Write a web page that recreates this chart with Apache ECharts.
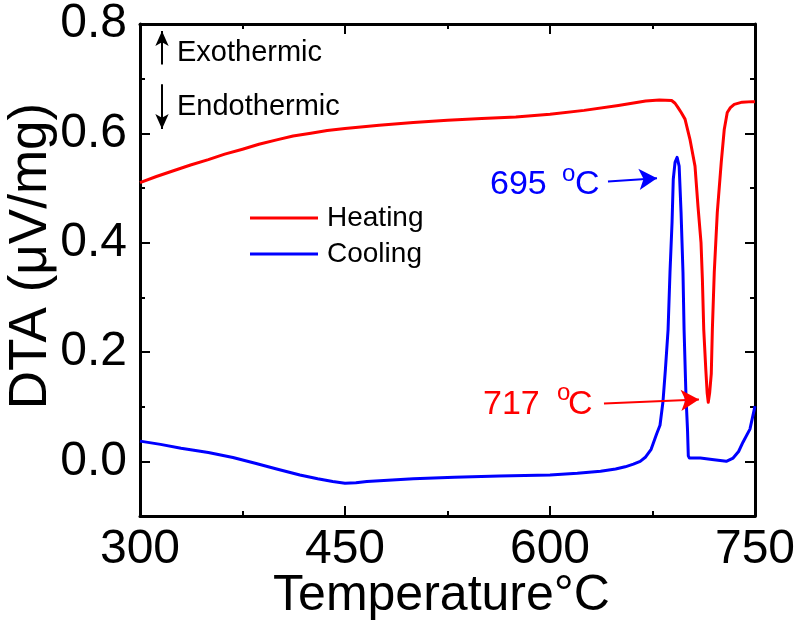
<!DOCTYPE html>
<html><head><meta charset="utf-8">
<script src="https://cdn.jsdelivr.net/npm/echarts@6/dist/echarts.min.js"></script>
<style>html,body{margin:0;padding:0;background:#fff}#c{width:800px;height:624px}</style>
</head><body><div id="c"></div>
<script>
// Heating curve (temperature °C, DTA µV/mg)
var heatT = [300,312,325,337,350,362,375,387,400,412,425,437,450,475,500,525,550,575,600,625,650,670,680,689,691.5,693.7,696,698.8,702.4,706.1,708.3,710.5,711.5,712.5,714,715,715.8,716.8,718,718.8,720.2,722.4,725.3,727.5,729.7,732,734.8,740.6,748,750];
var heatV = [0.510,0.521,0.532,0.542,0.552,0.562,0.571,0.580,0.588,0.595,0.600,0.605,0.609,0.615,0.620,0.624,0.627,0.630,0.635,0.642,0.651,0.659,0.661,0.660,0.655,0.647,0.638,0.626,0.589,0.540,0.466,0.400,0.333,0.241,0.168,0.125,0.108,0.125,0.160,0.241,0.346,0.455,0.547,0.607,0.638,0.647,0.653,0.657,0.658,0.658];
// Cooling curve
var coolT = [300,315,330,350,368,385,400,417,430,441,450,458,466,500,530,563,600,620,637,648,655,661,666,670,674,678,680.5,682.7,684.5,686.4,687.8,689.3,690.2,691.5,693,694.5,695.9,697.3,698.1,699.5,700.6,701.2,702,710,720,729,734,738,741.2,746.3,750];
var coolV = [0.037,0.031,0.024,0.016,0.007,-0.004,-0.014,-0.025,-0.032,-0.037,-0.040,-0.039,-0.037,-0.032,-0.029,-0.027,-0.025,-0.022,-0.018,-0.014,-0.010,-0.005,0.000,0.008,0.022,0.050,0.066,0.110,0.170,0.241,0.346,0.437,0.516,0.547,0.556,0.540,0.455,0.346,0.241,0.119,0.059,0.010,0.006,0.006,0.003,0.000,0.006,0.018,0.035,0.059,0.101];
// Axis ticks
var xMin = 300, xMax = 750, xStep = 150;
var yMin = -0.1, yMax = 0.8;
var yMajor = [0, 0.2, 0.4, 0.6, 0.8];
var yMinor = [0.1, 0.3, 0.5, 0.7];
// Annotations: [label, arrow start T, arrow start V, arrow end T, arrow end V]
var peakCool = ['695', 642.4, 0.512, 678.3, 0.518];
var peakHeat = ['717', 639.5, 0.106, 709.0, 0.113];
var exoArrow = [316.1, 0.726, 316.1, 0.787];
var endoArrow = [316.1, 0.690, 316.1, 0.608];

function zip(a, b) { return a.map(function (v, i) { return [v, b[i]]; }); }

var FONT = '"Liberation Sans", Arial, sans-serif';
var chart = echarts.init(document.getElementById('c'), null, {renderer: 'canvas'});

function ml(a, color, w, sz) {
  return [{coord: [a[0], a[1]], symbol: 'none', lineStyle: {color: color, width: w, type: 'solid'}},
          {coord: [a[2], a[3]], symbol: 'arrow', symbolSize: sz}];
}

var baseX = {
  type: 'value', min: xMin, max: xMax, interval: xStep,
  axisLine: {show: true, onZero: false, lineStyle: {color: '#000', width: 3}},
  axisTick: {show: true, inside: true, length: 10, lineStyle: {color: '#000', width: 2}},
  minorTick: {show: true, splitNumber: 2, length: 5, lineStyle: {color: '#000', width: 2}},
  splitLine: {show: false}, minorSplitLine: {show: false}
};
var xBottom = Object.assign({}, baseX, {
  position: 'bottom',
  axisLabel: {show: true, fontSize: 48, color: '#000', fontFamily: FONT, margin: 10},
  name: 'Temperature\u00b0C', nameLocation: 'middle', nameGap: 55, nameMoveOverlap: false,
  nameTextStyle: {fontSize: 50, lineHeight: 51, color: '#000', fontFamily: FONT, padding: [0, 12, 0, 0]}
});
var xTop = Object.assign({}, baseX, {position: 'top', axisLabel: {show: false}});

function yAx(pos, ticks, len, withLine, withLabel) {
  var o = {
    type: 'value', min: yMin, max: yMax, position: pos,
    axisLine: {show: withLine, onZero: false, lineStyle: {color: '#000', width: 3}},
    axisTick: {show: true, inside: true, length: len, customValues: ticks, lineStyle: {color: '#000', width: 2}},
    axisLabel: {show: false}, splitLine: {show: false}
  };
  if (withLabel) {
    o.axisLabel = {show: true, customValues: yMajor, fontSize: 48, color: '#000', fontFamily: FONT, margin: 13,
      formatter: function (v) { return v.toFixed(1); }};
    o.name = 'DTA (\u03bcV/mg)';
    o.nameLocation = 'middle';
    o.nameGap = 82;
    o.nameMoveOverlap = false;
    o.nameTextStyle = {fontSize: 53, lineHeight: 53, color: '#000', fontFamily: FONT, padding: [0, 0, 0, 28]};
  }
  return o;
}

function txt(s, x, y, size, color) {
  return {type: 'text', x: x, y: y, style: {text: s, fontSize: size, fontFamily: FONT, fill: color,
    align: 'left', verticalAlign: 'middle'}};
}

var option = {
  animation: false,
  backgroundColor: '#fff',
  grid: {left: 140, right: 45, top: 24, bottom: 108, containLabel: false, outerBoundsMode: 'none'},
  legend: {
    orient: 'vertical', left: 250, top: 204, padding: 0, icon: 'rect', itemWidth: 68, itemHeight: 3, itemGap: 8,
    textStyle: {fontSize: 28, color: '#000', fontFamily: FONT, padding: [0, 0, 0, 4]},
    data: ['Heating', 'Cooling']
  },
  xAxis: [xBottom, xTop],
  yAxis: [yAx('left', yMajor, 10, true, true), yAx('left', yMinor, 5, false, false),
          yAx('right', yMajor, 10, true, false), yAx('right', yMinor, 5, false, false)],
  series: [
    {name: 'Heating', type: 'line', data: zip(heatT, heatV), showSymbol: false, symbol: 'none',
     lineStyle: {color: '#ff0000', width: 3, join: 'round'}, itemStyle: {color: '#ff0000'},
     markLine: {silent: true, symbol: ['none', 'arrow'], label: {show: false},
       data: [ml(peakHeat.slice(1), '#ff0000', 2, [16, 18]),
              ml(exoArrow, '#000', 2, [10, 15]), ml(endoArrow, '#000', 2, [10, 15])]}},
    {name: 'Cooling', type: 'line', data: zip(coolT, coolV), showSymbol: false, symbol: 'none',
     lineStyle: {color: '#0000ff', width: 3, join: 'round'}, itemStyle: {color: '#0000ff'},
     markLine: {silent: true, symbol: ['none', 'arrow'], label: {show: false},
       data: [ml(peakCool.slice(1), '#0000ff', 2, [16, 18])]}}
  ],
  graphic: [
    txt('Exothermic', 177, 53, 29, '#000'),
    txt('Endothermic', 177, 107, 29, '#000'),
    txt(peakCool[0], 490, 185, 34, '#0000ff'),
    txt('o', 562, 174, 24, '#0000ff'),
    txt('C', 575, 185, 34, '#0000ff'),
    txt(peakHeat[0], 483, 405, 34, '#ff0000'),
    txt('o', 557, 393, 24, '#ff0000'),
    txt('C', 568, 405, 34, '#ff0000')
  ]
};
chart.setOption(option);
</script></body></html>
